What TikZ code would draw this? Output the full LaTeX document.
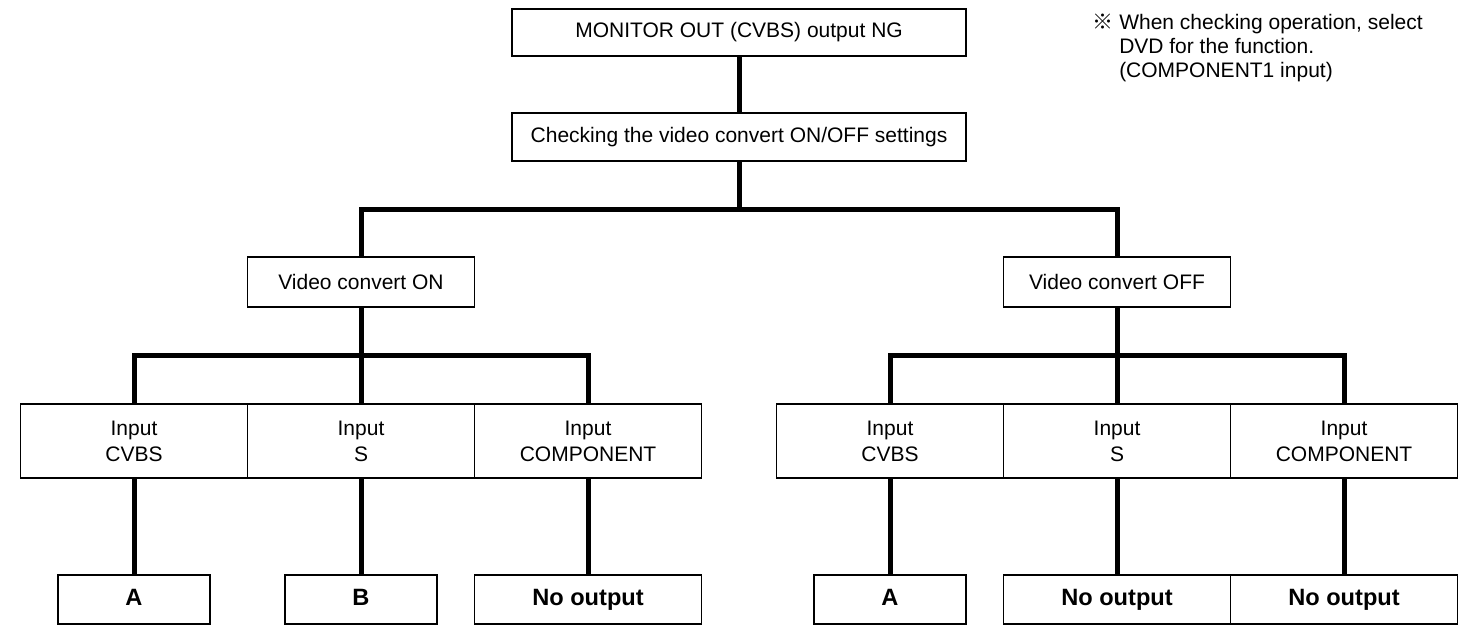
\documentclass[tikz,border=0pt]{standalone}
\usepackage{fontspec}
\setmainfont{Liberation Sans}
\newfontfamily\cjkfont{Noto Sans CJK JP}
\usetikzlibrary{calc}

\tikzset{
    plainbox/.style={draw, line width=0.8pt, align=center, inner sep=0pt,
        font=\fontsize{10.5}{13}\selectfont},
    topbox/.style={plainbox, minimum width=227pt, minimum height=23.5pt},
    midbox/.style={plainbox, minimum width=113.5pt, minimum height=25pt},
    inbox/.style={plainbox, minimum width=113.5pt, minimum height=37pt},
    resbox/.style={plainbox, minimum width=76pt, minimum height=24.5pt,
        text height=8pt, text depth=2pt,
        font=\fontsize{11.8}{13}\selectfont\bfseries},
    nobox/.style={resbox, minimum width=113.5pt}
}

\begin{document}
\begin{tikzpicture}[
            x=0.5pt, y=-0.5pt,
            edge from parent/.style={draw, line width=2.5pt},
            edge from parent path={(\tikzparentnode.south)
                |- ($(\tikzparentnode.south)!.5!(\tikzchildnode.north)$)
                -| (\tikzchildnode.north)},
            level 1/.style={level distance=52.25pt},
            level 2/.style={level distance=72.5pt, sibling distance=378pt},
            level 3/.style={level distance=79.5pt, sibling distance=113.5pt},
            level 4/.style={level distance=79.25pt}
        ]
            \useasboundingbox (0,0) rectangle (1460,626);
            \node[topbox] (monitor) at (739,32.5) {MONITOR OUT (CVBS) output NG}
                child {
                    node[topbox, minimum height=24pt] (check) {Checking the video convert ON/OFF settings}
                    child {
                        node[midbox] (convon) {Video convert ON}
                        child {
                            node[inbox] (oncvbs) {Input\\CVBS}
                            child { node[resbox] (ona) {A} }
                        }
                        child {
                            node[inbox] (ons) {Input\\S}
                            child { node[resbox] (onb) {B} }
                        }
                        child {
                            node[inbox] (oncomp) {Input\\COMPONENT}
                            child { node[nobox] (onnone) {No output} }
                        }
                    }
                    child {
                        node[midbox] (convoff) {Video convert OFF}
                        child {
                            node[inbox] (offcvbs) {Input\\CVBS}
                            child { node[resbox] (offa) {A} }
                        }
                        child {
                            node[inbox] (offs) {Input\\S}
                            child { node[nobox] (offsnone) {No output} }
                        }
                        child {
                            node[inbox] (offcomp) {Input\\COMPONENT}
                            child { node[nobox] (offcompnone) {No output} }
                        }
                    }
                };
            \node[anchor=north west, inner sep=0pt, align=left,
                font=\fontsize{10.5}{12}\selectfont] (note) at (1092,14)
                {{\cjkfont ※}\ When checking operation, select\\
                 \phantom{{\cjkfont ※}\ }DVD for the function.\\
                 \phantom{{\cjkfont ※}\ }(COMPONENT1 input)};
        \end{tikzpicture}
\end{document}
